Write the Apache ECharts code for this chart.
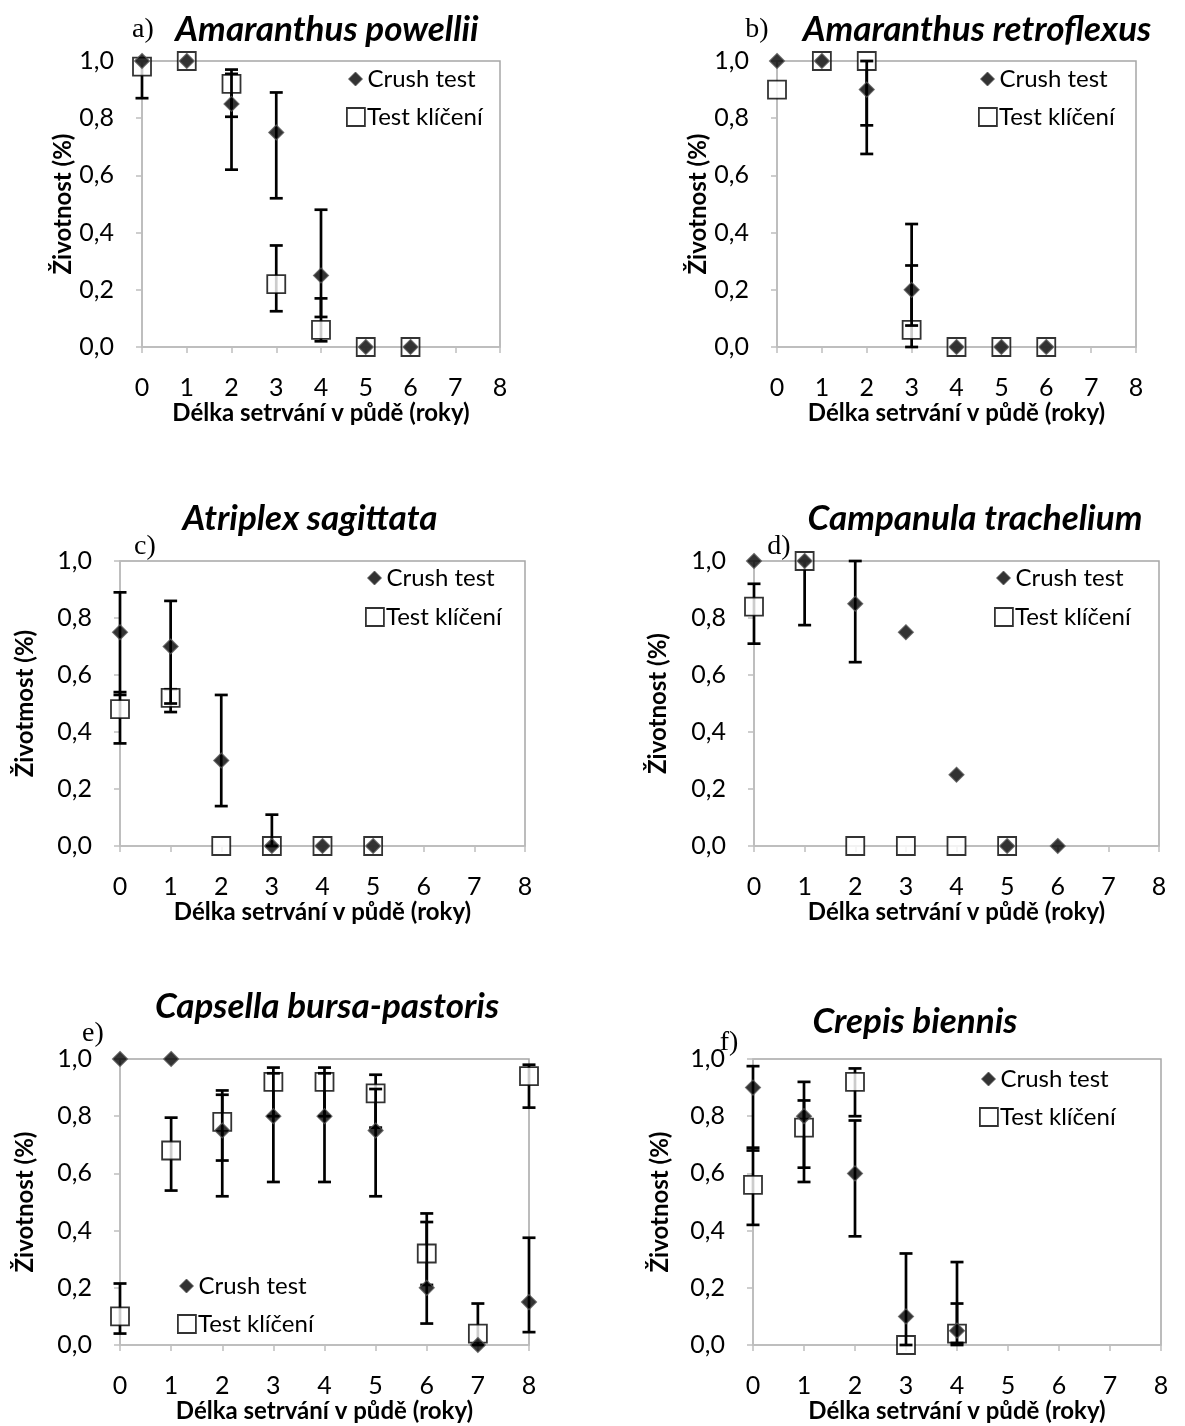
<!DOCTYPE html>
<html>
<head>
<meta charset="utf-8">
<script src="https://cdn.jsdelivr.net/npm/echarts@6/dist/echarts.min.js"></script>
<style>
html,body{margin:0;padding:0;background:#fff;}
#chart{width:1185px;height:1426px;}
</style>
</head>
<body>
<div id="chart"></div>
<script>
// ---------- DATA ----------
const years = [0, 1, 2, 3, 4, 5, 6, 7, 8];
const yTicks = [0, 0.2, 0.4, 0.6, 0.8, 1.0];
const seriesNames = ['Crush test', 'Test klíčení'];
const panelLetters = ['a)', 'b)', 'c)', 'd)', 'e)', 'f)'];
const panelSpecies = ['Amaranthus powellii', 'Amaranthus retroflexus', 'Atriplex sagittata',
  'Campanula trachelium', 'Capsella bursa-pastoris', 'Crepis biennis'];
const xAxisName = 'Délka setrvání v půdě (roky)';
const yAxisNames = ['Životnost (%)', 'Životnost (%)', 'Životmost (%)', 'Životnost (%)', 'Životnost (%)', 'Životnost (%)'];

// a) Amaranthus powellii
const crushA   = [1.00, 1.00, 0.85, 0.75, 0.25, 0.00, 0.00];
const crushLoA = [null, null, 0.62, 0.52, 0.105];
const crushHiA = [null, null, 0.97, 0.89, 0.48];
const testA    = [0.98, 1.00, 0.92, 0.22, 0.06, 0.00, 0.00];
const testLoA  = [0.87, null, 0.805, 0.125, 0.02];
const testHiA  = [1.00, null, 0.955, 0.355, 0.17];

// b) Amaranthus retroflexus
const crushB   = [1.00, 1.00, 0.90, 0.20, 0.00, 0.00, 0.00];
const crushLoB = [null, null, 0.675, 0.075];
const crushHiB = [null, null, 1.00, 0.43];
const testB    = [0.90, 1.00, 1.00, 0.06, 0.00, 0.00, 0.00];
const testLoB  = [null, null, 0.775, 0.00];
const testHiB  = [null, null, 1.00, 0.285];

// c) Atriplex sagittata
const crushC   = [0.75, 0.70, 0.30, 0.00, 0.00, 0.00];
const crushLoC = [0.53, 0.50, 0.14, 0.00];
const crushHiC = [0.89, 0.86, 0.53, 0.11];
const testC    = [0.48, 0.52, 0.00, 0.00, 0.00, 0.00];
const testLoC  = [0.36, 0.47];
const testHiC  = [0.54, 0.55];

// d) Campanula trachelium
const crushD   = [1.00, 1.00, 0.85, 0.75, 0.25, 0.00, 0.00];
const crushLoD = [null, null, 0.645];
const crushHiD = [null, null, 1.00];
const testD    = [0.84, 1.00, 0.00, 0.00, 0.00, 0.00];
const testLoD  = [0.71, 0.775];
const testHiD  = [0.92, 1.00];

// e) Capsella bursa-pastoris
const crushE   = [1.00, 1.00, 0.75, 0.80, 0.80, 0.75, 0.20, 0.00, 0.15];
const crushLoE = [null, null, 0.52, 0.57, 0.57, 0.52, 0.075, null, 0.045];
const crushHiE = [null, null, 0.875, 0.95, 0.95, 0.895, 0.43, null, 0.375];
const testE    = [0.10, 0.68, 0.78, 0.92, 0.92, 0.88, 0.32, 0.04, 0.94];
const testLoE  = [0.04, 0.54, 0.645, 0.80, 0.80, 0.76, 0.21, 0.00, 0.83];
const testHiE  = [0.215, 0.795, 0.89, 0.97, 0.97, 0.945, 0.46, 0.145, 0.98];

// f) Crepis biennis
const crushF   = [0.90, 0.80, 0.60, 0.10, 0.05];
const crushLoF = [0.68, 0.57, 0.38, 0.00, 0.007];
const crushHiF = [0.975, 0.92, 0.785, 0.32, 0.29];
const testF    = [0.56, 0.76, 0.92, 0.00, 0.04];
const testLoF  = [0.42, 0.62, 0.80, null, 0.00];
const testHiF  = [0.69, 0.855, 0.967, null, 0.145];

const panelData = [
  [crushA, crushLoA, crushHiA, testA, testLoA, testHiA],
  [crushB, crushLoB, crushHiB, testB, testLoB, testHiB],
  [crushC, crushLoC, crushHiC, testC, testLoC, testHiC],
  [crushD, crushLoD, crushHiD, testD, testLoD, testHiD],
  [crushE, crushLoE, crushHiE, testE, testLoE, testHiE],
  [crushF, crushLoF, crushHiF, testF, testLoF, testHiF]
];

// ---------- LAYOUT / STYLE ----------
const FONT = 'Lato, "Open Sans", sans-serif';
const layout = [
  {x0: 142, x8: 500, y1: 61,   y0: 347,  yGap: 45, leg: [355, 79, 117],
   letter: [138, 27], title: [322, 28]},
  {x0: 777, x8: 1136, y1: 61,  y0: 347,  yGap: 45, leg: [987, 79, 117],
   letter: [752, 27], title: [972, 28]},
  {x0: 120, x8: 525, y1: 561,  y0: 846,  yGap: 83, leg: [374, 578, 617],
   letter: [140, 544], title: [305, 517]},
  {x0: 754, x8: 1159, y1: 561, y0: 846,  yGap: 84, leg: [1003, 578, 617],
   letter: [774, 544], title: [970, 517]},
  {x0: 120, x8: 529, y1: 1059, y0: 1345, yGap: 83, leg: [186, 1286, 1324],
   letter: [88, 1031], title: [322, 1005]},
  {x0: 753, x8: 1161, y1: 1059, y0: 1345, yGap: 81, leg: [988, 1079, 1117],
   letter: [724, 1040], title: [910, 1020]}
];

function pts(vals) {
  const out = [];
  vals.forEach((v, i) => { if (v != null) out.push([years[i], v]); });
  return out;
}
function errs(lo, hi) {
  const out = [];
  lo.forEach((l, i) => { if (l != null && hi[i] != null) out.push([years[i], l, hi[i]]); });
  return out;
}
function errRender(params, api) {
  const x = api.value(0), lo = api.value(1), hi = api.value(2);
  const a = api.coord([x, lo]), b = api.coord([x, hi]);
  const w = 6.5;
  const st = {stroke: '#000', lineWidth: 2.7};
  return {type: 'group', children: [
    {type: 'line', shape: {x1: a[0], y1: a[1], x2: b[0], y2: b[1]}, style: st},
    {type: 'line', shape: {x1: a[0] - w, y1: a[1], x2: a[0] + w, y2: a[1]}, style: st},
    {type: 'line', shape: {x1: b[0] - w, y1: b[1], x2: b[0] + w, y2: b[1]}, style: st}
  ]};
}

const grids = [], xAxes = [], yAxes = [], series = [], legends = [], titles = [];
layout.forEach((L, i) => {
  grids.push({left: L.x0, top: L.y1, width: L.x8 - L.x0, height: L.y0 - L.y1,
    show: true, borderColor: '#a6a6a6', borderWidth: 1.5, backgroundColor: 'transparent'});
  xAxes.push({type: 'value', gridIndex: i, min: 0, max: 8, interval: 1,
    axisLine: {show: true, onZero: false, lineStyle: {color: '#bfbfbf', width: 1.5}},
    axisTick: {show: true, inside: false, length: 6, lineStyle: {color: '#bfbfbf', width: 1.5}},
    splitLine: {show: false},
    axisLabel: {color: '#000', fontFamily: FONT, fontSize: 25, margin: 28},
    name: xAxisName, nameLocation: 'middle', nameGap: 52,
    nameTextStyle: {color: '#000', fontFamily: FONT, fontSize: 24, fontWeight: 'bold'}});
  yAxes.push({type: 'value', gridIndex: i, min: 0, max: 1, interval: 0.2,
    axisLine: {show: true, onZero: false, lineStyle: {color: '#bfbfbf', width: 1.5}},
    axisTick: {show: true, inside: false, length: 6, lineStyle: {color: '#bfbfbf', width: 1.5}},
    splitLine: {show: false},
    axisLabel: {color: '#000', fontFamily: FONT, fontSize: 25, margin: 28,
      formatter: v => v.toFixed(1).replace('.', ',')},
    name: yAxisNames[i], nameLocation: 'middle', nameGap: L.yGap, nameRotate: 90,
    nameTextStyle: {color: '#000', fontFamily: FONT, fontSize: 24, fontWeight: 'bold'}});

  const d = panelData[i];
  series.push({type: 'custom', name: 'err-test-' + i, xAxisIndex: i, yAxisIndex: i, z: 1,
    renderItem: errRender, data: errs(d[4], d[5]), silent: true, clip: false});
  series.push({type: 'scatter', name: seriesNames[1], xAxisIndex: i, yAxisIndex: i, z: 2,
    symbol: 'rect', symbolSize: 18, data: pts(d[3]),
    itemStyle: {color: '#fff', borderColor: '#000', borderWidth: 1.8}});
  series.push({type: 'custom', name: 'err-crush-' + i, xAxisIndex: i, yAxisIndex: i, z: 3,
    renderItem: errRender, data: errs(d[1], d[2]), silent: true, clip: false});
  series.push({type: 'scatter', name: seriesNames[0], xAxisIndex: i, yAxisIndex: i, z: 4,
    symbol: 'diamond', symbolSize: 15, data: pts(d[0]),
    itemStyle: {color: '#000', borderColor: '#5a5a5a', borderWidth: 1.2}});

  legends.push({data: [{name: seriesNames[0], icon: 'diamond', itemStyle: {color: '#000', borderColor: '#5a5a5a', borderWidth: 1}}],
    left: L.leg[0] - 7, top: L.leg[1] - 14, itemWidth: 14, itemHeight: 14, itemGap: 0,
    selectedMode: false, padding: 0,
    textStyle: {color: '#000', fontFamily: FONT, fontSize: 24, lineHeight: 28, padding: [0, 0, 0, 0]}});
  legends.push({data: [{name: seriesNames[1], icon: 'rect', itemStyle: {color: '#fff', borderColor: '#000', borderWidth: 1.8}}],
    left: L.leg[0] - 9, top: L.leg[2] - 14, itemWidth: 18, itemHeight: 18, itemGap: 0,
    selectedMode: false, padding: 0,
    textStyle: {color: '#000', fontFamily: FONT, fontSize: 24, lineHeight: 28, padding: [0, 0, 0, -3]}});

  titles.push({text: panelLetters[i], left: L.letter[0], top: L.letter[1] - 16, textAlign: 'center',
    textStyle: {fontFamily: '"Liberation Serif", "Times New Roman", serif', fontSize: 28, fontWeight: 'normal', color: '#000'}});
  titles.push({text: panelSpecies[i], left: L.title[0], top: L.title[1] - 21, textAlign: 'center',
    textStyle: {fontFamily: FONT, fontSize: 35, fontWeight: 'bold', fontStyle: 'italic', color: '#000'}});
});

const chart = echarts.init(document.getElementById('chart'), null, {renderer: 'canvas'});
chart.setOption({
  animation: false,
  backgroundColor: '#fff',
  title: titles,
  legend: legends,
  grid: grids,
  xAxis: xAxes,
  yAxis: yAxes,
  series: series
});
</script>
</body>
</html>
